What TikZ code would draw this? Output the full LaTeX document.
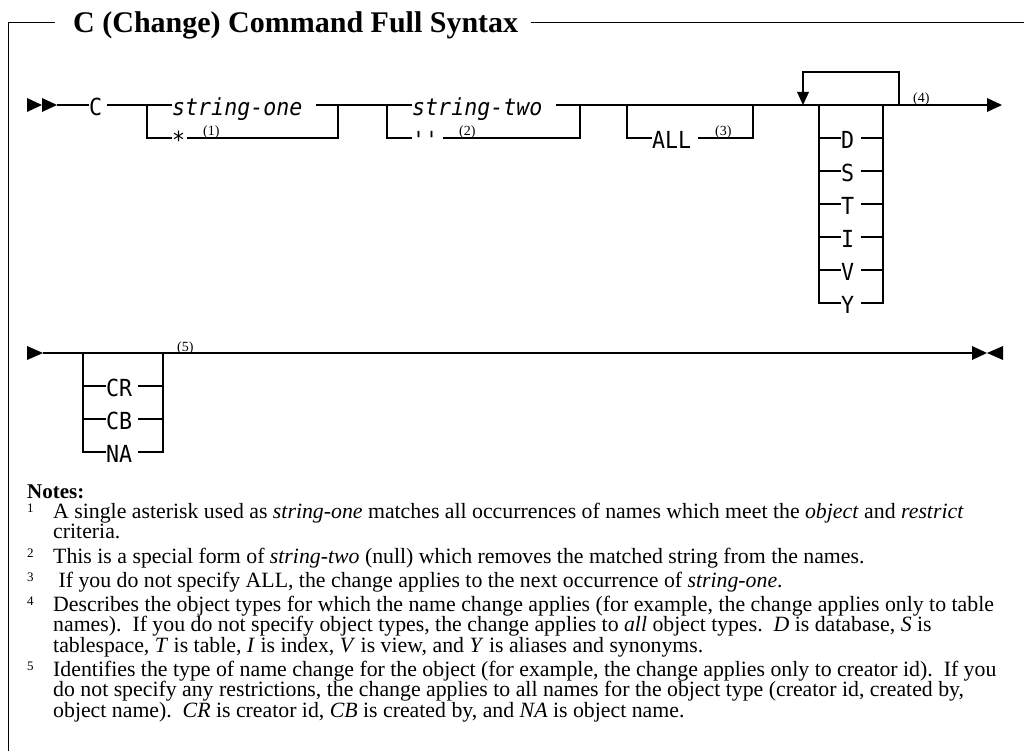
\documentclass[tikz,border=0pt]{standalone}
\usepackage{fontspec}
\setmainfont{Liberation Serif}
\newfontfamily\railfont[Ligatures=TeXOff,FakeStretch=0.92]{DejaVu Sans Mono}
\begin{document}
\begin{tikzpicture}[x=1pt,y=-1pt]
\tikzset{
  rail/.style={line width=1.8pt},
  framerule/.style={line width=1.8pt},
  tip/.style={fill=black},
  kw/.style={font=\railfont\fontsize{23.5}{26}\selectfont, inner sep=0pt, text height=21pt, text depth=0pt, anchor=west},
  var/.style={kw, font=\railfont\itshape\fontsize{23.5}{26}\selectfont},
  fn/.style={font=\fontsize{14}{16}\selectfont, inner sep=0pt, anchor=base west},
  note/.style={font=\fontsize{21.8}{24}\selectfont, inner sep=0pt, anchor=base west},
  notenum/.style={font=\fontsize{13}{15}\selectfont, inner sep=0pt, anchor=base west},
  titlestyle/.style={font=\bfseries\fontsize{30}{34}\selectfont, inner sep=0pt, anchor=base west}
}
\useasboundingbox (0,0) rectangle (1024,751);

% frame and title
\coordinate (fbot) at (8.5,752);
\coordinate (ftl) at (8.5,22.5);
\coordinate (ft1) at (55,22.5);
\coordinate (ftr) at (1024,22.5);
\node[titlestyle] (title) at (73,33) {C (Change) Command Full Syntax};
\draw[framerule] (fbot) -- (ftl) -- (ft1);
\draw[framerule] ([xshift=13pt]title.east |- ftr) -- (ftr);

% ---------- row 1 ----------
\fill[tip] (27,98) -- (42,105) -- (27,112) -- cycle;
\fill[tip] (42,98) -- (57,105) -- (42,112) -- cycle;
\coordinate (a0) at (57,105);
\node[kw] (C) at (89,105) {C};
\draw[rail] (a0) -- (C.west);

% branch 1
\coordinate (j1L) at (147,105); \coordinate (j1Lb) at (147,138);
\coordinate (j1R) at (338,105); \coordinate (j1Rb) at (338,138);
\node[var] (s1) at (172,105) {string-one};
\node[kw] (ast) at (172,138) {*};
\node[fn] (f1) at (203,136) {(1)};
\draw[rail] ([xshift=5pt]C.east) -- (j1L) -- (s1.west);
\draw[rail] (j1L) -- (j1Lb) -- (ast.west);
\draw[rail] ([xshift=13pt]s1.east) -- (j1R);
\draw[rail] ([xshift=2pt]ast.east) -- (j1Rb) -- (j1R);

% branch 2
\coordinate (j2L) at (387,105); \coordinate (j2Lb) at (387,138);
\coordinate (j2R) at (580,105); \coordinate (j2Rb) at (580,138);
\node[var] (s2) at (412,105) {string-two};
\node[kw] (nul) at (412,138) {''};
\node[fn] (f2) at (459,136) {(2)};
\draw[rail] (j1R) -- (j2L) -- (s2.west);
\draw[rail] (j2L) -- (j2Lb) -- (nul.west);
\draw[rail] ([xshift=13pt]s2.east) -- (j2R);
\draw[rail] ([xshift=5pt]nul.east) -- (j2Rb) -- (j2R);

% branch 3
\coordinate (j3L) at (627,105); \coordinate (j3Lb) at (627,138);
\coordinate (j3R) at (753,105); \coordinate (j3Rb) at (753,138);
\node[kw] (all) at (652,138) {ALL};
\node[fn] (f3) at (715,136) {(3)};
\draw[rail] (j2R) -- (j3L) -- (j3R);
\draw[rail] (j3L) -- (j3Lb) -- (all.west);
\draw[rail] ([xshift=7pt]all.east) -- (j3Rb) -- (j3R);

% repeat loop and object type stack
\coordinate (endA) at (988,105);
\draw[rail] (j3R) -- (endA);
\fill[tip] (987,98) -- (1002,105) -- (987,112) -- cycle;
\coordinate (lpR) at (899,105); \coordinate (lpRt) at (899,72);
\coordinate (lpLt) at (803,72); \coordinate (lpL) at (803,93);
\draw[rail] (lpR) -- (lpRt) -- (lpLt) -- (lpL);
\fill[tip] (797,92) -- (809,92) -- (803,105) -- cycle;
\node[fn] (f4) at (913,103) {(4)};

\coordinate (sL) at (819,105); \coordinate (sR) at (883,105);
\node[kw] (tD) at (841,138) {D};
\node[kw] (tS) at (841,171) {S};
\node[kw] (tT) at (841,204) {T};
\node[kw] (tI) at (841,237) {I};
\node[kw] (tV) at (841,270) {V};
\node[kw] (tY) at (841,303) {Y};
\draw[rail] (sL) -- (sL |- tY.west) -- (tY.west);
\draw[rail] ([xshift=7pt]tY.east) -- (sR |- tY.west) -- (sR);
\foreach \t in {tD,tS,tT,tI,tV} {
  \draw[rail] (sL |- \t.west) -- (\t.west);
  \draw[rail] ([xshift=7pt]\t.east) -- (sR |- \t.west);
}

% ---------- row 2 ----------
\fill[tip] (27,346) -- (43,353) -- (27,360) -- cycle;
\coordinate (b0) at (43,353);
\coordinate (bend) at (972,353);
\draw[rail] (b0) -- (bend);
\fill[tip] (972,346) -- (987,353) -- (972,360) -- cycle;
\fill[tip] (1003,346) -- (987,353) -- (1003,360) -- cycle;
\coordinate (rL) at (83,353); \coordinate (rR) at (163,353);
\node[kw] (tCR) at (106,386) {CR};
\node[kw] (tCB) at (106,419) {CB};
\node[kw] (tNA) at (106,452) {NA};
\node[fn] (f5) at (177,351) {(5)};
\draw[rail] (rL) -- (rL |- tNA.west) -- (tNA.west);
\draw[rail] ([xshift=6pt]tNA.east) -- (rR |- tNA.west) -- (rR);
\foreach \t in {tCR,tCB} {
  \draw[rail] (rL |- \t.west) -- (\t.west);
  \draw[rail] ([xshift=6pt]\t.east) -- (rR |- \t.west);
}

% ---------- notes ----------
\node[note, font=\bfseries\fontsize{21}{24}\selectfont] (notes) at (27,498) {Notes:};
\node[notenum] (n1) at (27,512) {1};
\node[note] (l1a) at (53,518) {A single asterisk used as \textit{string-one} matches all occurrences of names which meet the \textit{object} and \textit{restrict}};
\node[note] (l1b) at (53,538.5) {criteria.};
\node[notenum] (n2) at (27,557) {2};
\node[note] (l2) at (53,563) {This is a special form of \textit{string-two} (null) which removes the matched string from the names.};
\node[notenum] (n3) at (27,581) {3};
\node[note] (l3) at (53,587) {\ If you do not specify ALL, the change applies to the next occurrence of \textit{string-one}.};
\node[notenum] (n4) at (27,605) {4};
\node[note] (l4a) at (53,611) {Describes the object types for which the name change applies (for example, the change applies only to table};
\node[note] (l4b) at (53,631.5) {names).\ \ If you do not specify object types, the change applies to \textit{all} object types.\ \ \textit{D} is database, \textit{S} is};
\node[note] (l4c) at (53,652) {tablespace, \textit{T} is table, \textit{I} is index, \textit{V} is view, and \textit{Y} is aliases and synonyms.};
\node[notenum] (n5) at (27,670) {5};
\node[note] (l5a) at (53,676) {Identifies the type of name change for the object (for example, the change applies only to creator id).\ \ If you};
\node[note] (l5b) at (53,696.5) {do not specify any restrictions, the change applies to all names for the object type (creator id, created by,};
\node[note] (l5c) at (53,717) {object name).\ \ \textit{CR} is creator id, \textit{CB} is created by, and \textit{NA} is object name.};
\end{tikzpicture}
\end{document}
